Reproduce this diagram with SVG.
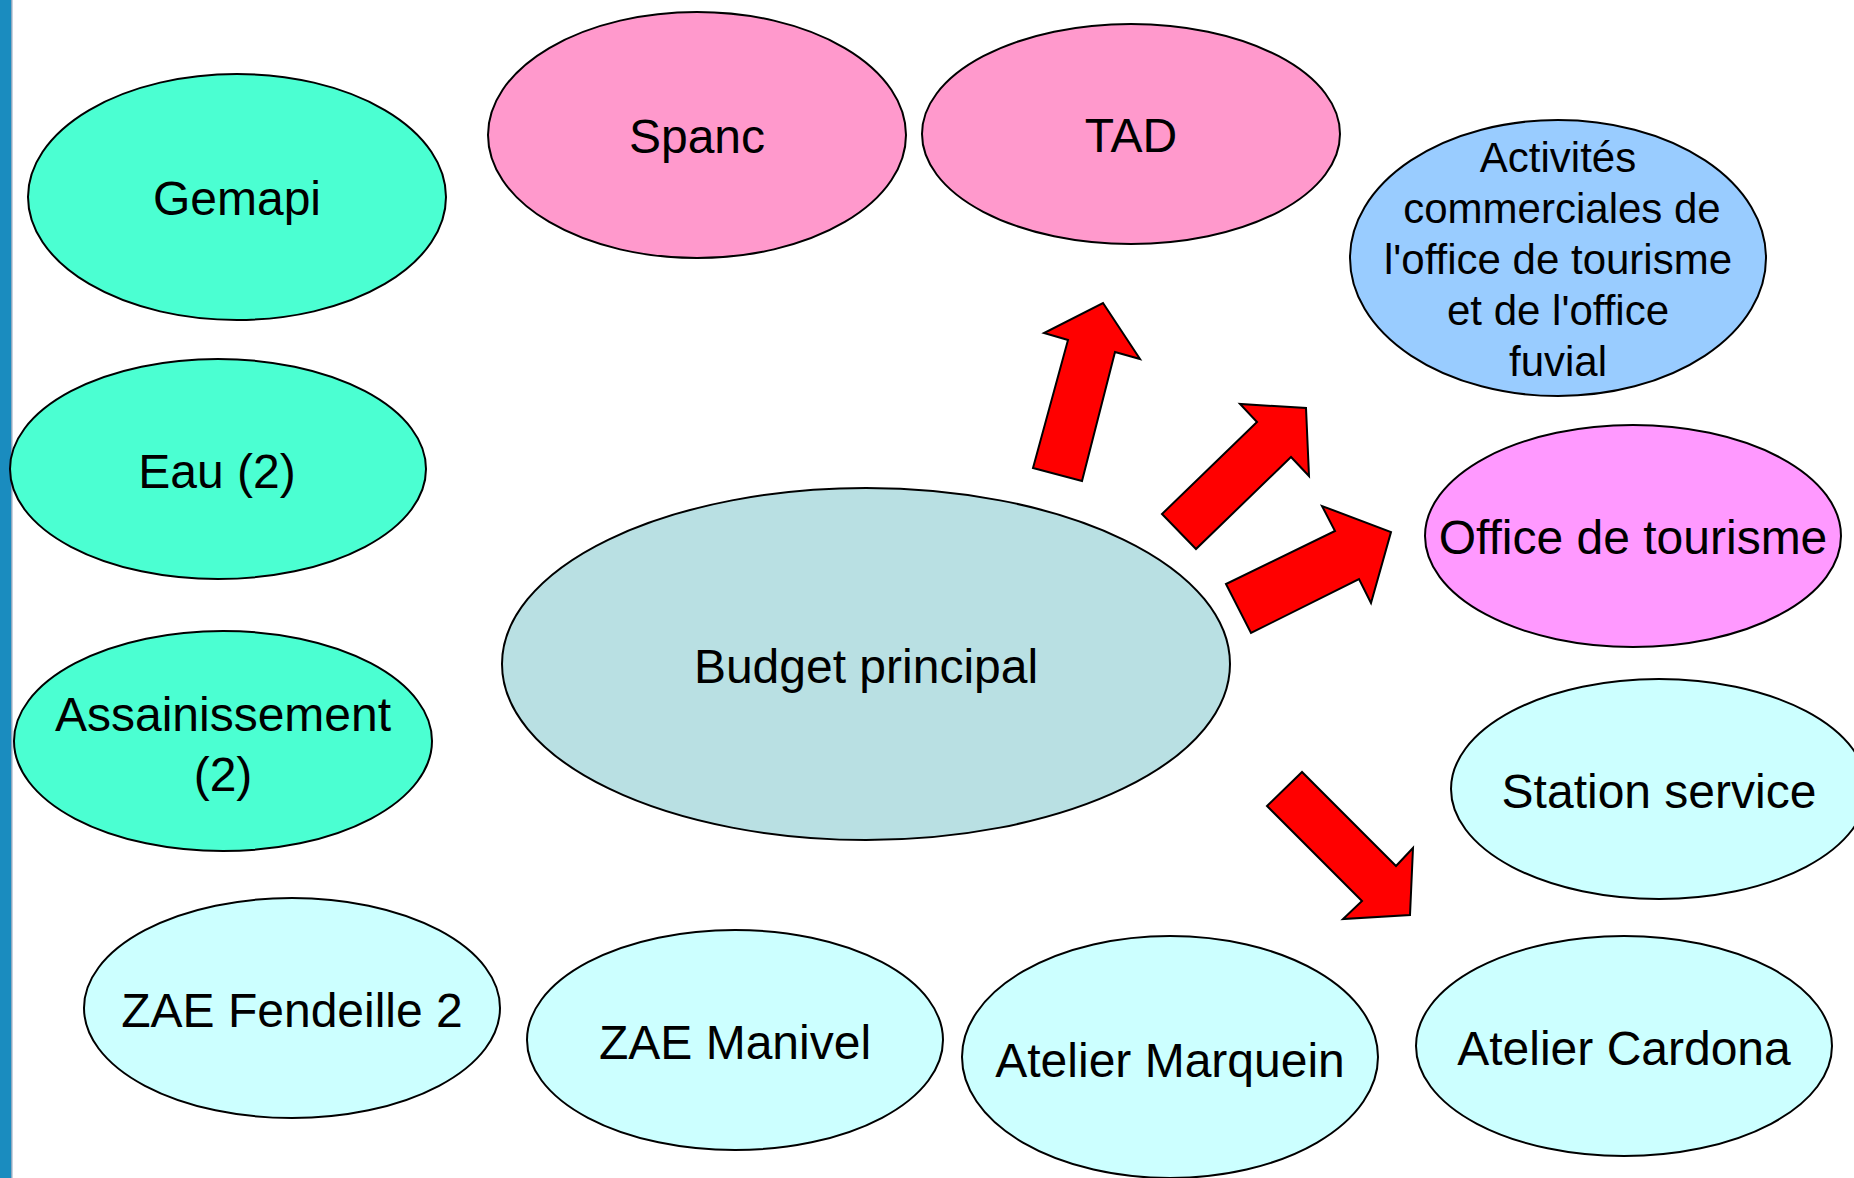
<svg xmlns="http://www.w3.org/2000/svg" width="1854" height="1178" viewBox="0 0 1854 1178">
<style>
  .n ellipse { stroke: #000; stroke-width: 2; }
  .t { font-family: "Liberation Sans", Arial, sans-serif; font-size: 48px; fill: #000; text-anchor: middle; }
  .s { font-size: 42px; }
  .green { fill: #4BFFD2; }
  .pink { fill: #FF99CC; }
  .blue { fill: #99CCFF; }
  .mag { fill: #FF99FF; }
  .cyan { fill: #CCFFFF; }
  .main { fill: #B9E0E3; }
  .arrow { fill: #FF0000; stroke: #000; stroke-width: 2; stroke-linejoin: miter; }
</style>
<rect x="0" y="0" width="1854" height="1178" fill="#FFFFFF"/>
<rect x="0" y="0" width="11" height="1178" fill="#1A8CBF"/>
<rect x="11" y="0" width="1.5" height="1178" fill="#8FA8C0"/>

<g id="gemapi" class="n"><ellipse class="green" cx="237" cy="197" rx="209" ry="123"/><text class="t" x="237" y="215">Gemapi</text></g>
<g id="eau" class="n"><ellipse class="green" cx="218" cy="469" rx="208" ry="110"/><text class="t" x="217" y="488">Eau (2)</text></g>
<g id="assainissement" class="n"><ellipse class="green" cx="223" cy="741" rx="209" ry="110"/><text class="t" x="223" y="731">Assainissement</text><text class="t" x="223" y="791">(2)</text></g>
<g id="spanc" class="n"><ellipse class="pink" cx="697" cy="135" rx="209" ry="123"/><text class="t" x="697" y="153">Spanc</text></g>
<g id="tad" class="n"><ellipse class="pink" cx="1131" cy="134" rx="209" ry="110"/><text class="t" x="1131" y="152">TAD</text></g>
<g id="activites" class="n"><ellipse class="blue" cx="1558" cy="258" rx="208" ry="138"/>
  <text class="t s" x="1558" y="172">Activités</text>
  <text class="t s" x="1562" y="223">commerciales de</text>
  <text class="t s" x="1558" y="274">l'office de tourisme</text>
  <text class="t s" x="1558" y="325">et de l'office</text>
  <text class="t s" x="1558" y="376">fuvial</text>
</g>
<g id="office" class="n"><ellipse class="mag" cx="1633" cy="536" rx="208" ry="111"/><text class="t" x="1633" y="554">Office de tourisme</text></g>
<g id="budget" class="n"><ellipse class="main" cx="866" cy="664" rx="364" ry="176"/><text class="t" x="866" y="683">Budget principal</text></g>
<g id="station" class="n"><ellipse class="cyan" cx="1659" cy="789" rx="208" ry="110"/><text class="t" x="1659" y="808">Station service</text></g>
<g id="zae-fendeille" class="n"><ellipse class="cyan" cx="292" cy="1008" rx="208" ry="110"/><text class="t" x="292" y="1027">ZAE Fendeille 2</text></g>
<g id="zae-manivel" class="n"><ellipse class="cyan" cx="735" cy="1040" rx="208" ry="110"/><text class="t" x="735" y="1059">ZAE Manivel</text></g>
<g id="atelier-marquein" class="n"><ellipse class="cyan" cx="1170" cy="1057" rx="208" ry="121"/><text class="t" x="1170" y="1077">Atelier Marquein</text></g>
<g id="atelier-cardona" class="n"><ellipse class="cyan" cx="1624" cy="1046" rx="208" ry="110"/><text class="t" x="1624" y="1065">Atelier Cardona</text></g>

<g id="connectors">
  <polygon class="arrow" points="1033,468 1082,481 1115,352 1140,359 1103,303 1044,333 1068,340"/>
  <polygon class="arrow" points="1162,514 1196,549 1291,457 1309,476 1306,408 1240,404 1257,422"/>
  <polygon class="arrow" points="1226,584 1251,633 1359,579 1371,603 1391,532 1322,506 1335,531"/>
  <polygon class="arrow" points="1302,772 1267,806 1362,901 1343,919 1410,915 1413,848 1396,866"/>
</g>
</svg>
